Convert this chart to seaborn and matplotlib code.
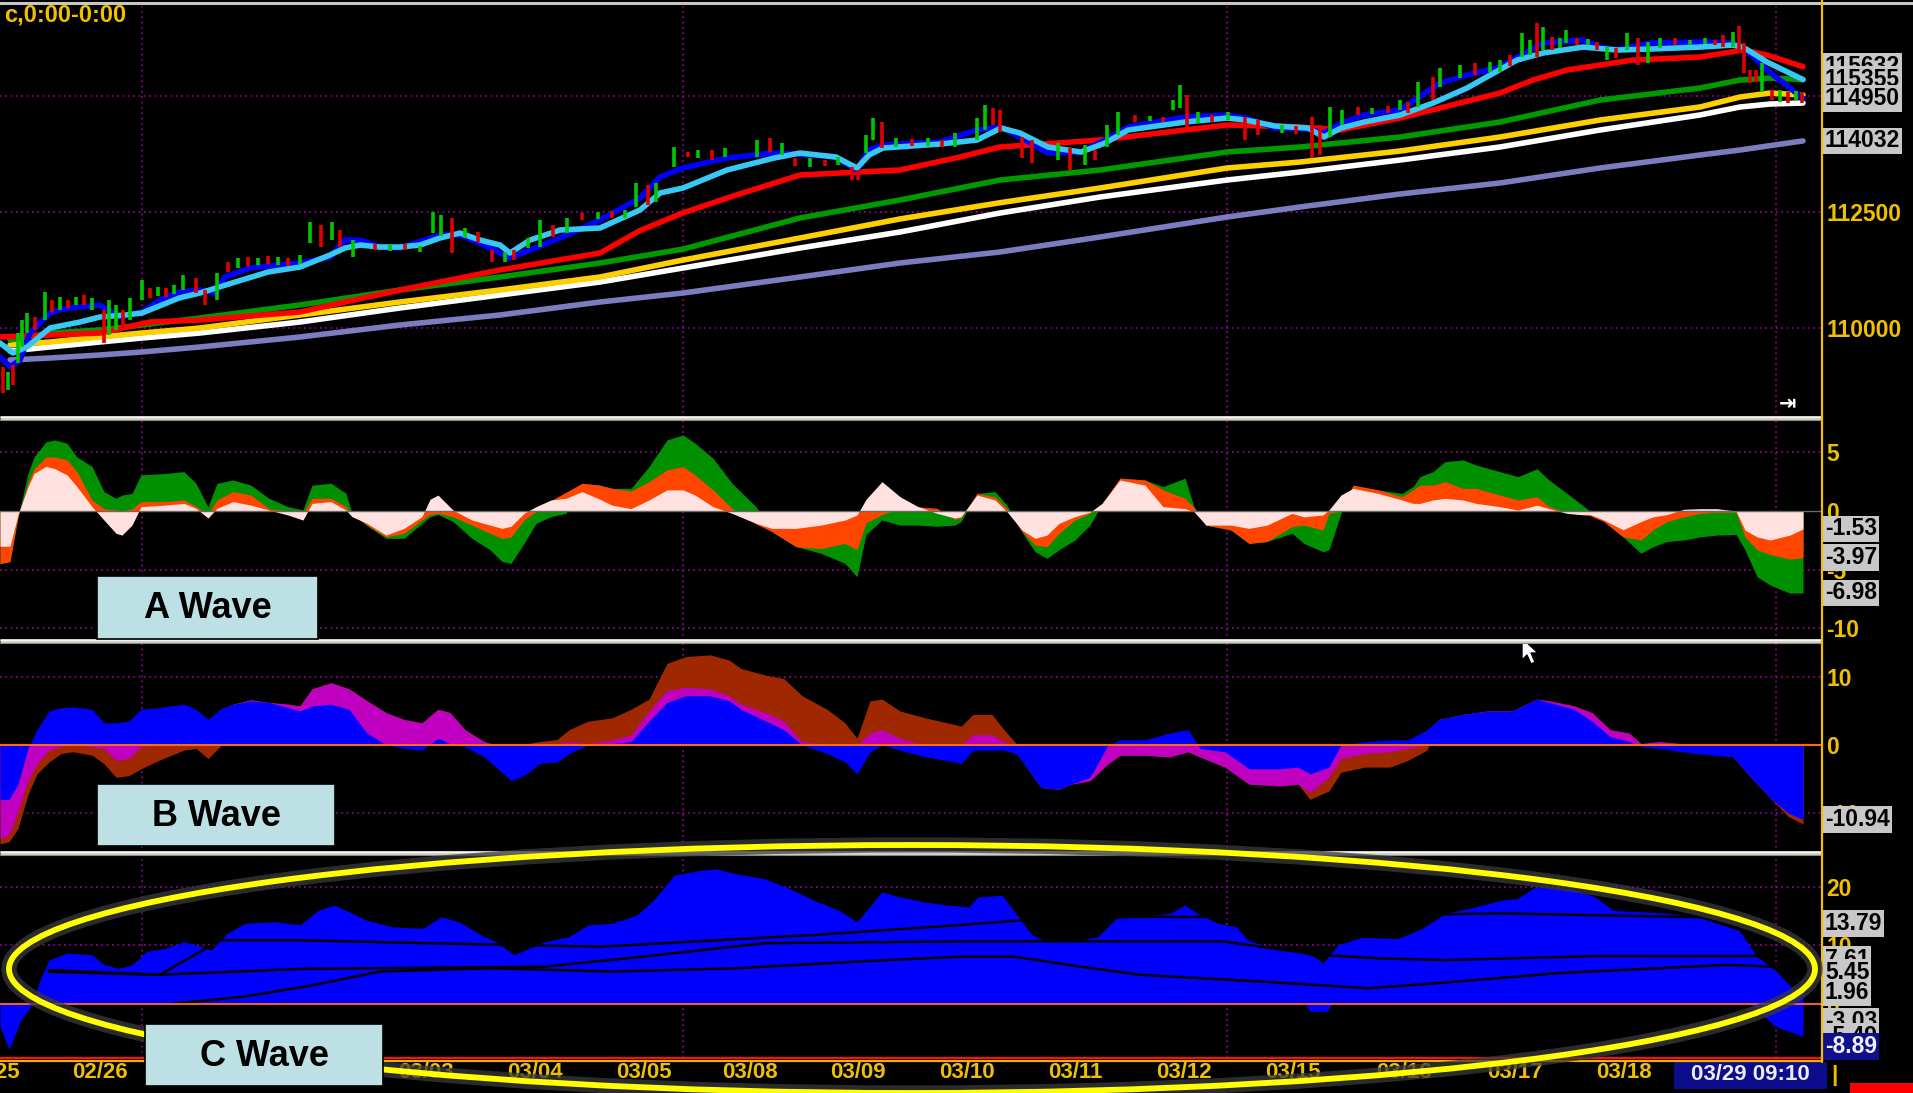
import matplotlib
matplotlib.use("Agg")
import matplotlib.pyplot as plt
import matplotlib.transforms as mtransforms
from matplotlib.patches import Rectangle, Ellipse, Polygon
import numpy as np
import seaborn as sns

# ---------------- price panel: slow moving averages ----------------
ma_x = [10, 50, 100, 142, 200, 300, 400, 500, 600, 683, 800, 900, 1000, 1100,
        1227, 1300, 1400, 1500, 1600, 1700, 1740, 1770, 1803]
ma_purple = [109310, 109353, 109418, 109483, 109591, 109806, 110065, 110280, 110560, 110754,
             111099, 111401, 111638, 111961, 112392, 112608, 112888, 113125, 113448, 113728,
             113836, 113930, 114032]
ma_white = [109504, 109591, 109698, 109784, 109892, 110129, 110431, 110711, 110991, 111293,
            111724, 112069, 112478, 112823, 113189, 113362, 113620, 113901, 114267, 114591,
            114763, 114827, 114849]
ma_gold = [109634, 109698, 109806, 109892, 110000, 110280, 110560, 110819, 111099, 111465,
           111940, 112350, 112700, 113017, 113448, 113577, 113814, 114116, 114482, 114763,
           114978, 115064, 115021]
ma_green = [109741, 109892, 109957, 110065, 110216, 110496, 110819, 111099, 111400, 111700,
            112371, 112758, 113189, 113405, 113793, 113901, 114116, 114439, 114913, 115172,
            115344, 115388, 115355]

red_x = [0, 50, 100, 150, 200, 300, 400, 500, 600, 640, 683, 730, 800, 900, 960, 1000,
         1100, 1227, 1300, 1340, 1400, 1500, 1533, 1567, 1600, 1633, 1700, 1743, 1767, 1803]
ma_red = [109806, 109849, 109892, 110129, 110172, 110345, 110819, 111250, 111616, 112100,
          112480, 112823, 113297, 113405, 113685, 113901, 114051, 114375, 114332, 114267,
          114526, 115064, 115344, 115560, 115668, 115775, 115840, 115991, 115883, 115632]

cyan_x = [0, 13, 27, 50, 80, 100, 125, 142, 179, 200, 232, 268, 300, 330, 345, 360, 380, 400,
          420, 440, 460, 480, 500, 510, 530, 560, 600, 640, 660, 683, 727, 774, 800, 836, 857,
          869, 883, 940, 977, 1001, 1020, 1048, 1081, 1105, 1128, 1185, 1227, 1246, 1275, 1308,
          1324, 1341, 1364, 1400, 1433, 1467, 1517, 1543, 1583, 1617, 1650, 1700, 1733, 1743,
          1767, 1803]
ma_cyan = [109676, 109461, 109590, 110000, 110129, 110237, 110280, 110323, 110646, 110754,
           110969, 111206, 111314, 111573, 111724, 111788, 111745, 111745, 111788, 111939,
           112047, 111896, 111788, 111616, 111896, 112112, 112155, 112543, 112909, 113017,
           113405, 113663, 113771, 113685, 113448, 113728, 113879, 113965, 114051, 114310,
           114202, 113900, 113792, 113986, 114267, 114439, 114525, 114482, 114353, 114310,
           114116, 114310, 114439, 114590, 114848, 115172, 115775, 115926, 116055, 115991,
           116012, 116055, 116098, 116055, 115732, 115355]

blue_x = [0, 10, 20, 30, 50, 60, 70, 100, 120, 142, 160, 179, 200, 215, 225, 250, 280, 300,
          330, 345, 360, 380, 400, 440, 460, 480, 500, 510, 530, 560, 600, 640, 660, 683, 727,
          774, 800, 836, 857, 869, 883, 940, 977, 1001, 1020, 1048, 1081, 1105, 1128, 1185,
          1227, 1246, 1275, 1308, 1324, 1341, 1364, 1400, 1440, 1467, 1500, 1543, 1583, 1600,
          1617, 1650, 1700, 1733, 1743, 1767, 1803]
ma_blue = [109375, 109159, 109310, 109892, 110323, 110388, 110431, 110495, 110237, 110344,
           110603, 110775, 110819, 110754, 111099, 111293, 111357, 111400, 111530, 111896,
           111896, 111745, 111724, 112004, 112004, 111831, 111616, 111508, 111681, 111939,
           112327, 112801, 113254, 113448, 113663, 113771, 113749, 113685, 113405, 113836,
           113943, 114008, 114267, 114331, 114116, 113771, 113792, 114051, 114331, 114547,
           114590, 114525, 114310, 114288, 114202, 114417, 114590, 114698, 115279, 115452,
           115624, 116141, 116206, 116055, 115991, 116141, 116163, 116141, 116055, 115560,
           114950]

# ---------------- price panel: bars (low / high) ----------------
candle_x = [3, 8, 13, 18, 22, 27, 35, 45, 52, 60,
            68, 76, 84, 92, 104, 109, 116, 123, 130, 142,
            150, 158, 166, 174, 183, 196, 205, 217, 228, 238,
            248, 258, 268, 278, 288, 300, 310, 321, 332, 340,
            353, 375, 390, 405, 420, 433, 441, 452, 465, 478,
            492, 505, 514, 528, 540, 553, 567, 582, 598, 612,
            625, 636, 648, 656, 674, 688, 698, 712, 725, 757,
            770, 782, 795, 810, 825, 838, 852, 858, 866, 873,
            882, 896, 912, 928, 942, 955, 977, 985, 993, 1000,
            1022, 1032, 1058, 1070, 1085, 1095, 1107, 1118, 1135, 1150,
            1163, 1173, 1180, 1187, 1198, 1212, 1228, 1245, 1258, 1282,
            1296, 1312, 1320, 1330, 1342, 1358, 1372, 1388, 1400, 1408,
            1418, 1433, 1440, 1460, 1475, 1490, 1500, 1510, 1522, 1530,
            1537, 1543, 1552, 1560, 1566, 1577, 1588, 1597, 1607, 1616,
            1627, 1638, 1648, 1660, 1675, 1690, 1705, 1715, 1723, 1733,
            1739, 1744, 1750, 1756, 1762, 1772, 1780, 1788, 1796, 1802]
candle_lo = [108599, 108664, 108771, 109245, 109590, 109892, 109957, 110172, 110344, 110388,
             110431, 110495, 110495, 110388, 109676, 109849, 109957, 110000, 110172, 110603,
             110646, 110689, 110668, 110732, 110819, 110754, 110495, 110603, 111206, 111293,
             111336, 111357, 111379, 111357, 111336, 111379, 111831, 111745, 111896, 111745,
             111530, 111680, 111659, 111680, 111637, 112047, 111982, 111616, 111939, 111853,
             111422, 111422, 111465, 111724, 111745, 111961, 112047, 112327, 112349, 112370,
             112370, 112607, 112650, 112715, 113469, 113685, 113663, 113620, 113685, 113685,
             113792, 113728, 113491, 113469, 113491, 113512, 113189, 113189, 113771, 114051,
             113879, 113900, 113922, 113922, 113900, 113900, 114051, 114267, 114374, 114223,
             113663, 113556, 113620, 113405, 113512, 113620, 113900, 114159, 114439, 114460,
             114439, 114698, 114741, 114331, 114417, 114439, 114482, 114051, 114159, 114202,
             114180, 113663, 113728, 114116, 114374, 114590, 114611, 114633, 114698, 114633,
             114762, 114913, 115193, 115387, 115452, 115516, 115516, 115646, 115840, 115883,
             115840, 115990, 115990, 116034, 116141, 116098, 116098, 115990, 115775, 115818,
             115990, 115667, 115710, 116034, 116098, 116098, 116120, 116098, 116055, 116055,
             115926, 115495, 115279, 115301, 115085, 114913, 114870, 114848, 114913, 114848]
candle_hi = [109159, 109052, 109202, 109892, 110172, 110323, 110237, 110775, 110603, 110668,
             110603, 110668, 110711, 110646, 110388, 110603, 110495, 110388, 110646, 111034,
             110862, 110883, 110862, 110926, 111142, 111077, 110819, 111185, 111422, 111508,
             111530, 111508, 111551, 111530, 111508, 111573, 112284, 112220, 112284, 112112,
             111896, 111810, 111788, 111810, 111767, 112500, 112435, 112370, 112155, 112068,
             111680, 111637, 111680, 111939, 112327, 112220, 112370, 112478, 112500, 112521,
             112543, 113125, 113081, 113125, 113900, 113792, 113836, 113836, 113879, 114051,
             114094, 113986, 113663, 113663, 113620, 113685, 113469, 113405, 114159, 114525,
             114439, 114094, 114073, 114094, 114051, 114202, 114525, 114805, 114741, 114698,
             114116, 114051, 113986, 113879, 113943, 113836, 114374, 114655, 114590, 114568,
             114547, 114913, 115236, 115021, 114655, 114590, 114655, 114547, 114482, 114374,
             114353, 114547, 114374, 114762, 114698, 114762, 114741, 114784, 114913, 114870,
             115301, 115409, 115603, 115667, 115710, 115732, 115775, 115883, 116357, 116206,
             116572, 116486, 116271, 116249, 116422, 116249, 116228, 116163, 116055, 116034,
             116357, 116249, 116163, 116249, 116249, 116206, 116249, 116206, 116314, 116378,
             116508, 116141, 115560, 115560, 115710, 115129, 115129, 115085, 115107, 115085]
candle_up = [0, 1, 0, 1, 1, 1, 0, 1, 0, 1,
             0, 1, 0, 1, 0, 1, 1, 0, 1, 1,
             0, 1, 0, 1, 1, 0, 0, 1, 0, 1,
             0, 1, 0, 1, 0, 1, 1, 0, 1, 0,
             1, 0, 1, 0, 1, 1, 1, 0, 1, 0,
             0, 1, 0, 1, 1, 0, 1, 0, 1, 0,
             1, 1, 0, 1, 1, 0, 1, 0, 1, 1,
             0, 1, 0, 1, 0, 1, 0, 0, 1, 1,
             0, 1, 0, 1, 0, 1, 1, 1, 0, 0,
             0, 0, 1, 0, 1, 0, 1, 1, 0, 1,
             0, 1, 1, 0, 1, 0, 1, 0, 0, 1,
             0, 0, 0, 1, 1, 0, 1, 0, 1, 0,
             1, 0, 1, 1, 0, 1, 1, 0, 1, 1,
             0, 1, 0, 1, 1, 0, 1, 0, 1, 0,
             1, 0, 1, 1, 0, 1, 1, 0, 0, 1,
             0, 0, 0, 0, 1, 0, 1, 0, 1, 0]

# ---------------- A wave ----------------
a_x = [0, 10, 18, 28, 34, 46, 55, 67, 77, 92, 104, 116, 122, 132, 141, 165, 184, 196, 208, 217,
       233, 251, 269, 288, 303, 312, 331, 346, 352, 367, 386, 404, 422, 430, 438, 453, 472, 490,
       502, 511, 524, 536, 551, 566, 582, 600, 612, 631, 649, 667, 683, 695, 713, 732, 756, 772,
       796, 821, 845, 857, 866, 882, 900, 918, 937, 955, 961, 977, 995, 1007, 1022, 1035, 1047,
       1059, 1075, 1090, 1102, 1120, 1145, 1163, 1185, 1194, 1206, 1231, 1249, 1267, 1292, 1304,
       1323, 1329, 1341, 1353, 1378, 1402, 1413, 1420, 1433, 1445, 1463, 1476, 1500, 1518, 1537,
       1549, 1567, 1580, 1590, 1604, 1623, 1641, 1653, 1667, 1684, 1700, 1717, 1736, 1745, 1757,
       1770, 1790, 1803]
a_pink = [-3.0, -3.0, -0.3, 2.07, 3.2, 3.8, 3.6, 3.07, 2.07, 0.37,
          -0.77, -1.9, -2.05, -1.2, 0.37, 0.5, 0.65, 0.23, -0.6, 0.23,
          0.8, 0.5, 0.08, -0.34, -0.77, 0.65, 0.8, 0.08, -0.48, -1.05,
          -2.05, -1.48, -0.48, 1.0, 1.36, 0.08, -0.77, -1.2, -1.48, -1.3,
          -0.2, 0.37, 0.94, 1.08, 1.65, 1.0, 0.5, 0.2, 0.94, 1.8,
          1.8, 1.36, 0.37, -0.2, -1.05, -1.48, -1.48, -1.2, -0.77, -0.34,
          1.0, 2.5, 1.22, 0.37, -0.2, -0.6, -0.48, 1.36, 0.94, -0.06,
          -1.62, -2.33, -2.05, -1.05, -0.48, -0.1, 0.65, 2.64, 2.2, 0.37,
          0.2, -0.06, -1.2, -1.2, -1.48, -1.2, -0.2, -0.5, -0.34, 0.1,
          1.36, 1.93, 1.5, 0.94, 0.65, 0.65, 0.94, 1.08, 0.94, 0.65,
          0.37, 0.08, 0.5, 0.2, -0.2, -0.3, -0.3, -0.77, -1.6, -0.9,
          -0.5, -0.3, 0.15, 0.2, 0.2, 0.0, -1.62, -2.2, -2.47, -2.05,
          -1.53]
a_orange = [-4.5, -4.3, -0.5, 2.4, 3.6, 4.6, 4.6, 4.35, 3.35, 0.94,
            0.2, 0.1, 0.0, 0.2, 0.8, 0.8, 0.94, 0.4, -0.3, 0.94,
            1.65, 1.36, 0.2, 0.0, -0.2, 1.08, 1.08, 0.37, -0.3, -1.2,
            -2.2, -1.9, -0.77, -0.3, -0.2, -0.48, -1.2, -1.9, -2.33, -2.2,
            -0.77, -0.06, 0.9, 1.6, 2.36, 2.2, 1.93, 1.7, 2.5, 3.5,
            3.78, 3.07, 1.8, 0.23, -1.1, -1.76, -3.04, -3.2, -2.76, -3.3,
            -1.0, -0.3, 0.2, 0.37, 0.23, -0.7, -0.6, 1.5, 1.2, 0.2,
            -1.75, -2.9, -3.04, -1.9, -0.77, -0.2, 0.6, 2.8, 2.64, 1.8,
            1.08, 0.3, -1.2, -1.62, -2.76, -2.6, -1.33, -1.2, -1.62, -0.2,
            0.0, 2.2, 1.8, 1.22, 1.8, 2.2, 2.2, 2.5, 1.93, 1.93,
            1.36, 0.94, 1.22, 0.37, -0.1, -0.3, -0.4, -0.9, -2.2, -2.47,
            -1.6, -0.9, -0.5, -0.2, -0.1, -0.1, -2.2, -3.3, -3.7, -4.1,
            -3.97]
a_green = [-4.5, -4.3, -0.5, 3.2, 4.6, 5.9, 6.05, 5.77, 4.6, 3.8,
           1.65, 1.08, 1.36, 1.5, 3.07, 3.2, 3.35, 2.36, 0.37, 2.36,
           2.64, 2.2, 1.08, 0.37, 0.1, 2.2, 2.36, 1.5, -0.2, -1.25,
           -2.33, -2.33, -1.05, -0.5, -0.3, -0.9, -2.33, -3.3, -4.3, -4.46,
           -2.76, -1.05, -0.48, -0.2, 2.36, 2.2, 1.93, 1.93, 3.78, 6.05,
           6.48, 5.77, 4.5, 2.36, 0.37, -1.76, -3.04, -3.6, -4.46, -5.6,
           -2.0, -0.77, -1.2, -1.2, -1.3, -1.2, -0.9, 1.5, 1.65, 0.5,
           -1.8, -3.47, -4.03, -3.3, -2.47, -1.2, 0.6, 2.8, 2.64, 2.07,
           2.8, 0.37, -1.2, -1.62, -2.76, -2.6, -1.9, -2.76, -3.47, -3.3,
           -0.2, 2.2, 1.8, 1.5, 2.07, 2.93, 3.35, 4.2, 4.35, 3.92,
           3.35, 2.93, 3.6, 2.64, 1.5, 0.65, 0.0, -0.9, -2.2, -3.6,
           -3.04, -2.6, -2.47, -2.2, -2.05, -2.0, -3.3, -5.6, -6.3, -7.0,
           -6.98]

# ---------------- B wave ----------------
b_x = [0, 9, 18, 28, 37, 49, 61, 73, 92, 104, 116, 129, 141, 159, 184, 196, 208, 220, 233, 251,
       269, 288, 300, 312, 331, 349, 367, 386, 404, 422, 438, 450, 465, 484, 496, 511, 527, 539,
       557, 569, 588, 612, 631, 649, 667, 686, 710, 729, 741, 766, 784, 802, 827, 845, 857, 870,
       882, 900, 925, 955, 961, 973, 992, 1004, 1016, 1029, 1041, 1059, 1071, 1090, 1108, 1120,
       1145, 1169, 1188, 1200, 1225, 1249, 1280, 1298, 1310, 1329, 1341, 1365, 1390, 1408, 1427,
       1439, 1463, 1488, 1512, 1537, 1549, 1574, 1592, 1610, 1629, 1641, 1659, 1696, 1733, 1751,
       1770, 1788, 1803]
b_blue = [-8, -8, -5.75, -0.5, 2.25, 5.0, 5.5, 5.6, 5.25, 3.25,
          3.25, 3.5, 5.25, 5.5, 6.0, 5.25, 3.75, 5.25, 6.0, 6.5,
          6.25, 5.5, 5.0, 5.75, 6.0, 5.25, 1.75, 0.0, -0.5, -0.75,
          1.0, 0.2, -0.25, -1.75, -3.25, -5.25, -4.25, -2.75, -2.5, -1.25,
          0, 0.2, 0.5, 3.5, 6.25, 7.25, 7.25, 6.5, 5.25, 3.5,
          2.25, 0, -1.25, -2.5, -4.25, -1.0, 0, -0.75, -1.75, -2.5,
          -2.75, -0.75, -0.75, -0.75, -1.25, -3.75, -6.25, -6.5, -5.75, -4.75,
          0.0, 0.75, 0.75, 1.75, 2.25, -0.5, -1.0, -3.5, -3.5, -3.25,
          -4.25, -3.25, 0, 0.5, 0.75, 0.75, 2.25, 3.75, 4.5, 5.0,
          5.0, 6.75, 6.25, 5.25, 3.5, 1.25, 0.5, -0.25, -0.5, -1.25,
          -1.75, -4.75, -7.75, -10.0, -10.94]
b_magenta = [-13.75, -13.25, -9.75, -5.25, -2.75, -0.75, -0.25, 0, -0.25, -0.5,
             -2.25, -2.0, -0.25, 0, 0, 0, 0, 5.25, 6.0, 6.65,
             6.25, 6.0, 5.75, 8.25, 9.15, 8.25, 6.5, 4.75, 3.75, 3.25,
             5.25, 4.75, 2.25, 0.5, 0, 0, 0, 0, 0.2, 0.5,
             0.2, 0.75, 1.5, 5.0, 8.0, 8.5, 8.25, 7.25, 6.0, 4.75,
             3.5, 0.5, 0, 0, 0, 1.75, 2.25, 1.0, 0, 0,
             0, 1.5, 1.5, 0.5, 0, -3.75, -6.25, -6.5, -5.75, -5.25,
             -2.75, -1.5, -1.5, -1.75, -1.0, -1.75, -3.25, -5.75, -6.0, -5.75,
             -7.0, -4.75, -2.0, -1.25, -1.0, -0.5, 0, 3.75, 4.5, 5.0,
             5.0, 6.75, 6.5, 5.75, 4.75, 2.25, 1.75, 0.2, 0.5, 0,
             -1.75, -4.75, -7.75, -10.0, -10.94]
b_brown = [-14.5, -14.25, -12.25, -7.25, -4.25, -2.5, -1.25, -1.0, -1.5, -2.75,
           -4.75, -4.5, -3.5, -2.25, -0.75, -0.5, -2.0, -0.25, 6.0, 6.65,
           6.25, 6.0, 5.75, 8.25, 9.15, 8.25, 6.5, 4.75, 3.75, 3.25,
           5.25, 4.75, 2.25, 0.5, 0, 0, 0.2, 0.5, 0.8, 2.25,
           3.5, 4.0, 5.25, 6.75, 12.0, 13.0, 13.25, 12.5, 11.25, 10.25,
           9.75, 7.25, 5.25, 3.25, 1.0, 6.5, 6.75, 5.0, 4.0, 3.0,
           2.75, 4.5, 4.5, 2.25, 0.25, -3.75, -6.25, -6.5, -5.75, -5.25,
           -2.75, -1.5, -1.5, -1.75, -1.0, -1.75, -3.25, -5.75, -6.0, -5.75,
           -8.0, -6.75, -4.0, -3.25, -3.25, -2.25, -0.75, 3.75, 4.5, 5.0,
           5.0, 6.75, 6.5, 5.75, 4.75, 2.25, 1.75, 0.2, 0.5, 0,
           -1.75, -4.75, -7.75, -10.5, -11.6]

# ---------------- C wave ----------------
c_x = [0, 9, 21, 31, 40, 49, 67, 92, 104, 119, 132, 147, 165, 184, 202, 211, 227, 245, 276, 300,
       318, 334, 349, 367, 392, 423, 441, 459, 484, 496, 514, 533, 545, 569, 588, 612, 637, 655,
       674, 698, 716, 735, 765, 790, 814, 839, 857, 882, 900, 924, 948, 969, 978, 1002, 1017,
       1032, 1044, 1080, 1098, 1116, 1140, 1170, 1185, 1200, 1218, 1236, 1248, 1272, 1296, 1314,
       1323, 1338, 1362, 1398, 1422, 1446, 1476, 1500, 1517, 1535, 1571, 1595, 1613, 1643, 1667,
       1697, 1739, 1757, 1775, 1793, 1803]
c_wave = [-3.8, -7.76, -2.66, -0.4, 4.1, 7.5, 8.7, 8.4, 6.7, 6.1,
          6.7, 9.0, 9.5, 10.65, 9.8, 9.2, 12.07, 13.8, 14.05, 13.5,
          16.0, 16.9, 15.75, 14.3, 13.2, 12.9, 14.9, 14.05, 11.5, 10.65,
          8.4, 9.8, 10.65, 11.5, 13.5, 13.8, 15.2, 18.0, 22.0, 22.8,
          23.1, 22.3, 21.4, 19.7, 17.7, 16.0, 14.05, 19.15, 18.3, 17.45,
          16.9, 16.6, 18.3, 18.6, 15.2, 11.8, 10.9, 10.9, 11.5, 14.6,
          14.9, 15.5, 16.9, 15.2, 13.8, 13.2, 10.9, 9.5, 9.0, 8.1,
          7.0, 10.1, 11.4, 11.2, 12.9, 15.5, 16.6, 17.7, 18.0, 20.0,
          19.7, 18.3, 16.0, 15.75, 15.5, 14.9, 12.6, 8.1, 5.8, 2.6,
          1.96]
c_neg_x = [0, 1305, 1310, 1327, 1332, 1751, 1775, 1803]
c_neg = [0, 0, -1.25, -1.25, 0, 0, -3.8, -5.49]
c_fast_x = [49, 160, 220, 300, 400, 600, 814, 960, 1020, 1120, 1300, 1500, 1740, 1803]
c_fast = [5.8, 5.0, 10.9, 10.9, 10.5, 9.8, 11.8, 13.5, 14.3, 14.9, 14.9, 15.5, 14.7, 13.79]
c_mid_x = [49, 160, 300, 545, 643, 765, 960, 1224, 1260, 1320, 1380, 1446, 1595, 1757, 1803]
c_mid = [5.5, 5.0, 6.0, 6.4, 8.1, 10.4, 10.7, 10.7, 9.8, 8.4, 7.8, 7.5, 8.2, 8.2, 7.61]
c_slow_x = [171, 245, 306, 380, 490, 612, 735, 857, 960, 1014, 1080, 1140, 1260, 1368, 1440,
            1560, 1727, 1770, 1803]
c_slow = [0.0, 1.3, 3.0, 5.55, 6.1, 5.55, 6.1, 7.25, 8.1, 8.1, 6.4, 5.0, 3.85, 2.7, 3.6,
          5.3, 6.7, 6.4, 5.45]

# ---------------- axis text ----------------
date_labels = ["02/25", "02/26", "03/03", "03/04", "03/05", "03/08", "03/09",
               "03/10", "03/11", "03/12", "03/15", "03/16", "03/17", "03/18"]
date_pos = [-8, 100, 426, 535, 644, 750, 858, 967, 1075, 1184, 1293, 1404, 1515, 1624]
week_breaks = [142, 683, 1227, 1776]
price_marks = [115632, 115355, 114950, 114032]
a_marks = [-1.53, -3.97, -6.98]
b_marks = [-10.94]
c_marks = [13.79, 7.61, 5.45, 1.96, -3.03, -5.49]

GOLD = "#f0c000"
GRID = "#a000a0"
TAG = "#c8c8c8"
WAVEBOX = "#bce0e3"

sns.set_theme(style="dark", rc={"axes.facecolor": "black", "figure.facecolor": "black",
                                 "savefig.facecolor": "black", "axes.unicode_minus": False})
plt.rcParams["font.family"] = ["Liberation Sans", "DejaVu Sans"]
plt.rcParams["font.weight"] = "bold"

W, H = 1913, 1093
XMAX = 1822
fig = plt.figure(figsize=(W / 100, H / 100), dpi=100)


def add_panel(top, bottom, ylim, ticks, hgrid):
    ax = fig.add_axes([0, 1 - bottom / H, XMAX / W, (bottom - top) / H])
    ax.set_facecolor("black")
    ax.set_xlim(0, XMAX)
    ax.set_ylim(*ylim)
    ax.set_xticks([])
    ax.set_yticks(ticks, labels=[str(t) for t in ticks])
    ax.yaxis.tick_right()
    ax.tick_params(axis="y", length=0, pad=3, labelsize=16.5, labelcolor=GOLD)
    for sp in ax.spines.values():
        sp.set_visible(False)
    ax.grid(False)
    for y in hgrid:
        ax.axhline(y, color=GRID, lw=1.2, ls=(0, (1, 2.2)), zorder=0.5)
    for x in week_breaks:
        ax.axvline(x, color=GRID, lw=1.2, ls=(0, (1, 2.2)), zorder=0.5)
    return ax


def tags(ax, values, fmt, fc=TAG, tc="black"):
    tr = mtransforms.blended_transform_factory(fig.transFigure, ax.transData)
    for v in values:
        ax.text(1825 / W, v, fmt.format(v), transform=tr, ha="left", va="center",
                fontsize=16.5, color=tc, zorder=10,
                bbox=dict(boxstyle="square,pad=0.08", fc=fc, ec="none"))


def clean(ax):
    ax.set_xlabel("")
    ax.set_ylabel("")


# ---- price panel ----
ax0 = add_panel(6, 418, (108060, 116940), [110000, 112500], [115000, 112500, 110000])
for xs, ys, col in [(ma_x, ma_purple, "#7c7cc0"), (ma_x, ma_white, "white"),
                    (ma_x, ma_gold, "#ffd000"), (ma_x, ma_green, "#009a00"),
                    (red_x, ma_red, "#ff0000")]:
    sns.lineplot(x=xs, y=ys, ax=ax0, color=col, linewidth=4.0, estimator=None, sort=False)
cols = np.where(np.array(candle_up) == 1, "#00c800", "#e00000")
ax0.vlines(candle_x, candle_lo, candle_hi, colors=cols, lw=2.6, zorder=3)
sns.lineplot(x=blue_x, y=ma_blue, ax=ax0, color="#0000ff", linewidth=4.0, estimator=None, sort=False)
sns.lineplot(x=cyan_x, y=ma_cyan, ax=ax0, color="#38c8f4", linewidth=4.0, estimator=None, sort=False)
clean(ax0)
tags(ax0, price_marks, "{:d}")

# ---- A wave ----
ax1 = add_panel(418, 641, (-11.07, 7.92), [5, 0, -5, -10], [5, -5, -10])
ax1.fill_between(a_x, 0, a_green, color="#009000", lw=0)
ax1.fill_between(a_x, 0, a_orange, color="#ff4500", lw=0)
ax1.fill_between(a_x, 0, a_pink, color="#ffe2e0", lw=0)
ax1.axhline(0, color="#6a6a6a", lw=1.0)
tags(ax1, a_marks, "{:.2f}")

# ---- B wave ----
ax2 = add_panel(641, 853, (-15.88, 15.29), [10, 0, -10], [10, -10])
ax2.fill_between(b_x, 0, b_brown, color="#a02800", lw=0)
ax2.fill_between(b_x, 0, b_magenta, color="#c000c0", lw=0)
ax2.fill_between(b_x, 0, b_blue, color="#0000ff", lw=0)
ax2.axhline(0, color="#ff6a10", lw=1.5)
tags(ax2, b_marks, "{:.2f}")

# ---- C wave ----
ax3 = add_panel(853, 1058, (-9.23, 25.81), [20, 10, 0], [20, 10])
ax3.fill_between(c_x, 0, c_wave, color="#0000ff", lw=0)
ax3.fill_between(c_neg_x, 0, c_neg, color="#0000ff", lw=0)
for xs, ys in [(c_fast_x, c_fast), (c_mid_x, c_mid), (c_slow_x, c_slow)]:
    sns.lineplot(x=xs, y=ys, ax=ax3, color="black", linewidth=1.8, estimator=None, sort=False)
ax3.axhline(0, color="#e8602c", lw=1.5)
clean(ax3)
tags(ax3, c_marks, "{:.2f}")
tags(ax3, [-7.3], "-8.89", fc="#10108c", tc="#f0f0f0")

dtr = mtransforms.blended_transform_factory(ax3.transData, fig.transFigure)
for pos, lab in zip(date_pos, date_labels):
    ax3.text(pos, 1 - 1072 / H, lab, transform=dtr, ha="center", va="center",
             fontsize=16, color=GOLD, clip_on=False)

# ---- overlay: frame, separators, annotations ----
ov = fig.add_axes([0, 0, 1, 1])
ov.set_xlim(0, W)
ov.set_ylim(H, 0)
ov.axis("off")
ov.patch.set_alpha(0)
ov.set_zorder(5)

ov.plot([0, W], [3, 3], color="#c8c8c0", lw=2.2)
for y in (418, 641, 853):
    ov.plot([0, XMAX], [y, y], color="#d2d2ca", lw=3.6, solid_capstyle="butt")
    ov.plot([0, XMAX], [y - 1.5, y - 1.5], color="#f6f6f2", lw=0.8, solid_capstyle="butt")
    ov.plot([0, XMAX], [y + 2, y + 2], color="#8a8a82", lw=0.8, solid_capstyle="butt")
ov.plot([0, XMAX], [1058, 1058], color="#ff1010", lw=1.6)
ov.plot([0, XMAX], [1060.5, 1060.5], color="#f0b000", lw=1.6)
ov.plot([XMAX, XMAX], [0, 1062], color=GOLD, lw=1.6)

ov.text(4, 15, "c,0:00-0:00", color=GOLD, fontsize=17, ha="left", va="center")
ov.text(1788, 404, "\u21e5", color="white", fontsize=15, ha="center", va="center",
        family="DejaVu Sans")

ov.add_patch(Rectangle((1674, 1062), 153, 27, fc="#0c0c8c", ec="none"))
ov.text(1750, 1075, "03/29 09:10", color="#ececec", fontsize=16, ha="center", va="center")
ov.text(1834, 1075, "|", color=GOLD, fontsize=16, ha="center", va="center")
ov.add_patch(Rectangle((1850, 1083), 63, 12, fc="#ff0000", ec="none"))

cursor = [(1522, 638), (1522, 660), (1527, 655), (1531, 664), (1535, 662), (1531, 653), (1538, 653)]
ov.add_patch(Polygon(cursor, closed=True, fc="white", ec="black", lw=1.0))

# highlight ellipse first, wave boxes drawn over it
ov.add_patch(Ellipse((912, 969), 1806, 248, fill=False, ec="#3a3a3a", lw=11, alpha=0.75, zorder=2))
ov.add_patch(Ellipse((912, 969), 1806, 248, fill=False, ec="#ffff00", lw=4.2, zorder=2.1))

for (x0, y0, x1, y1, label) in [(97, 576, 318, 639, "A Wave"), (97, 784, 335, 846, "B Wave"),
                                (145, 1024, 383, 1086, "C Wave")]:
    ov.add_patch(Rectangle((x0, y0), x1 - x0, y1 - y0, fc=WAVEBOX, ec="black", lw=1.2, zorder=3))
    ov.text((x0 + x1) / 2, (y0 + y1) / 2 + 1, label, color="black", fontsize=26,
            ha="center", va="center", zorder=4)

fig.savefig("out.png", dpi=100, facecolor="black")
